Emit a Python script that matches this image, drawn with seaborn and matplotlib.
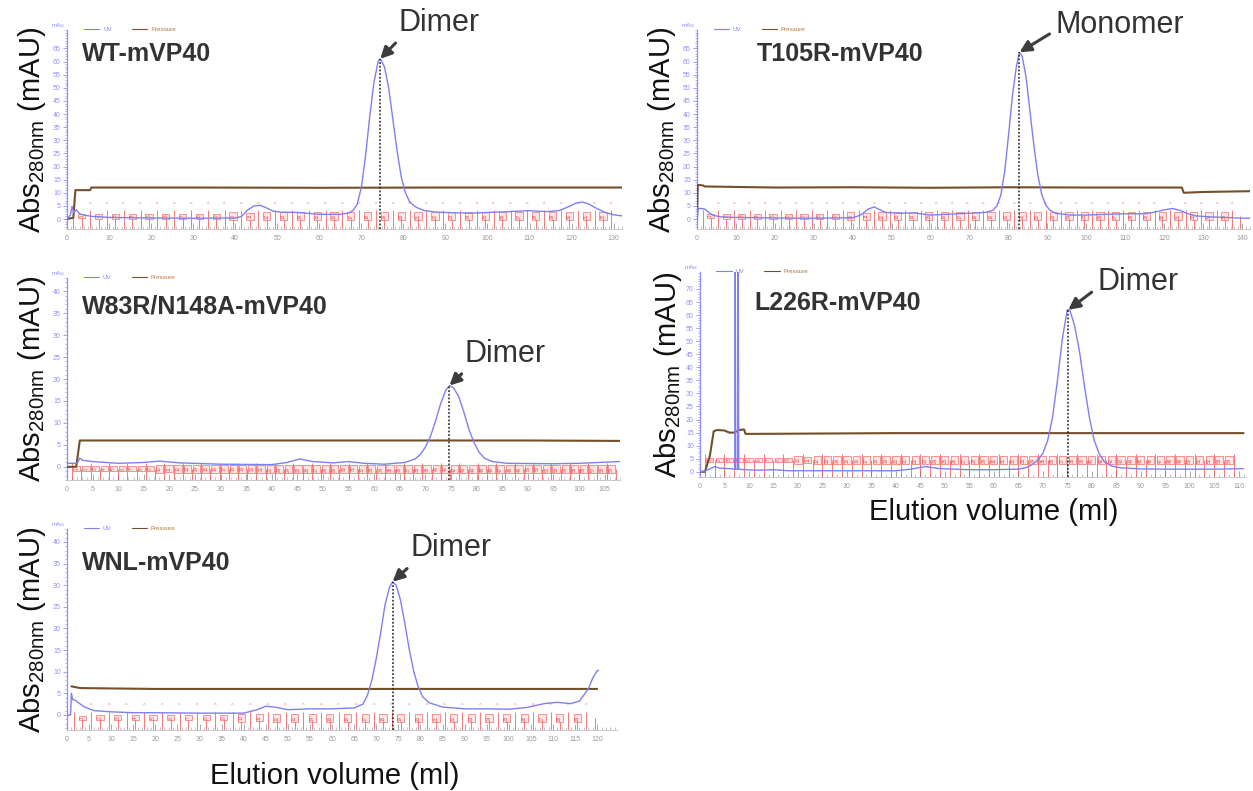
import numpy as np
import pandas as pd
import matplotlib
matplotlib.use("Agg")
import matplotlib.pyplot as plt
import matplotlib.transforms as mtransforms
from matplotlib.ticker import MultipleLocator
from matplotlib import font_manager
import seaborn as sns

# ---------------- data ----------------
wt_name = "WT-mVP40"
wt_uv = [(0, 0), (0.8, 1.5), (1.2, 4.8), (1.6, 2.5), (2.2, 3.5), (3, 2), (4, 1.5), (6, 1), (10, 0.6),
         (20, 0.4), (30, 0.3), (40, 0.4), (41.5, 1), (43, 3.5), (44.5, 5), (46, 5.2), (47.5, 4.2),
         (49, 3), (51, 2.6), (55, 2.5), (60, 1.8), (65, 1.8), (67, 2.3), (68, 3.2), (69, 5.5),
         (70, 12), (71, 24), (72, 39), (73, 52), (74, 60), (74.5, 61), (75.5, 58), (76.5, 50),
         (77.5, 38), (78.5, 26), (79.5, 16), (80.5, 10), (81.5, 6.5), (83, 4.5), (85, 3.2),
         (88, 2.6), (92, 2.4), (96, 2.2), (100, 2.5), (105, 2.8), (110, 3.2), (114, 2.8),
         (117, 3.2), (119, 4.5), (121, 6), (122.5, 6.5), (124, 5.8), (126, 4), (128, 2.5),
         (130, 1.6), (132, 1.2)]
wt_pressure = [(0, 0), (1.5, 0.5), (2, 11), (5.5, 11), (5.8, 12), (30, 12), (60, 11.9), (90, 12), (132, 12)]
wt_peak = (74.5, 61)
wt_note = "Dimer"

t105_name = "T105R-mVP40"
t105_uv = [(0, 0), (0.3, 4), (1, 4), (2, 3.8), (3, 2.5), (4, 1.5), (6, 0.8), (10, 0.6), (20, 0.4),
           (30, 0.3), (40, 0.5), (42, 1.5), (44, 3.8), (45.5, 4.6), (47, 3.5), (48.5, 2.5), (52, 2.2),
           (56, 2.3), (60, 1.5), (64, 1.8), (70, 2.2), (74, 2.5), (76, 3.3), (77, 5), (78, 9),
           (79, 18), (80, 32), (81, 47), (82, 58), (82.8, 63.5), (83.5, 62), (84.5, 54), (85.5, 41),
           (86.5, 28), (87.5, 17), (88.5, 9.5), (89.5, 5.5), (90.5, 3.5), (92, 2.2), (96, 1.5),
           (100, 1.5), (105, 1.8), (110, 2), (115, 2), (118, 2.8), (120, 3.5), (122, 4), (124, 3.3),
           (126, 2), (128, 1.2), (132, 0.8), (136, 0.6), (140, 0.3), (142, 0.3)]
t105_pressure = [(0, 0), (0.2, 13), (1.5, 12.8), (2, 12.4), (20, 12), (40, 12.1), (60, 11.9),
                 (80, 12.1), (100, 12), (124.5, 12), (125, 10), (130, 10.3), (142, 10.6)]
t105_peak = (82.8, 63.5)
t105_note = "Monomer"

w83_name = "W83R/N148A-mVP40"
w83_uv = [(0, 0.8), (2, 0.8), (2.5, 2), (3, 1.5), (5, 1.2), (10, 0.8), (15, 1), (18, 1.3), (22, 0.9),
          (30, 0.6), (40, 0.5), (43, 1), (45.5, 1.8), (48, 1.2), (52, 0.9), (55, 1.2), (58, 0.8),
          (62, 0.6), (66, 1), (68, 1.8), (69, 2.8), (70, 4.5), (71, 7), (72, 10.5), (73, 14.5),
          (74, 17.5), (74.7, 18.5), (75.5, 18), (76.5, 16), (77.5, 12.5), (78.5, 8.5), (79.5, 5.5),
          (80.5, 3.3), (81.5, 2), (83, 1.2), (86, 0.8), (95, 0.7), (100, 0.8), (104, 1), (108, 1.2)]
w83_pressure = [(0, 0), (1.8, 0), (2.5, 6), (30, 6), (60, 6), (90, 6), (108, 5.9)]
w83_peak = (74.7, 18.5)
w83_note = "Dimer"

l226_name = "L226R-mVP40"
l226_uv = [(0, 0), (1, 0.3), (2.5, 1.5), (3, 2), (4, 1.4), (6, 1.2), (7.1, 1), (7.2, 80), (7.3, 1),
           (7.7, 1), (7.8, 80), (7.9, 1), (9, 0.8), (12, 0.6), (15, 0.8), (18, 0.4), (30, 0.4),
           (40, 0.4), (43, 1), (46, 2), (49, 1.2), (55, 0.8), (60, 0.8), (65, 1), (67, 1.8), (68, 3),
           (69, 4.5), (70, 7), (71, 12), (72, 21), (73, 35), (74, 51), (75, 62), (75.5, 62),
           (76.5, 56), (77.5, 46), (78.5, 33), (79.5, 21), (80.5, 12), (81.5, 7), (82.5, 4),
           (84, 2.2), (86, 1.5), (90, 1.1), (95, 1), (100, 1), (105, 1), (111, 1.2)]
l226_pressure = [(0, 0), (1, 0), (2, 6), (2.8, 15.5), (3.5, 16), (5, 15.8), (6, 15), (7, 15),
                 (7.5, 15.5), (8, 16), (9, 16.2), (9.3, 14.5), (20, 14.6), (40, 14.8), (60, 14.8),
                 (80, 14.8), (100, 14.8), (111, 14.8)]
l226_peak = (75.2, 62)
l226_note = "Dimer"

wnl_name = "WNL-mVP40"
wnl_uv = [(0, 0), (0.8, 0), (1, 5), (1.3, 3.5), (2, 3.3), (3, 2.5), (4, 1.8), (6, 1), (10, 0.7),
          (15, 0.5), (20, 0.5), (30, 0.4), (40, 0.4), (43, 1.2), (45, 2), (47, 1.8), (50, 1.2),
          (55, 1.4), (60, 1.4), (65, 1.6), (67, 2.5), (68, 4.5), (69, 8), (70, 13), (71, 19),
          (72, 25.5), (73, 29.5), (73.7, 30.8), (74.5, 30), (75.5, 26.5), (76.5, 21), (77.5, 15),
          (78.5, 10), (79.5, 6.5), (80.5, 4.2), (82, 2.8), (85, 1.8), (90, 1.4), (95, 1.4),
          (100, 1.3), (104, 1.7), (108, 2.6), (111, 2.9), (114, 2.6), (116, 3.2), (118, 6),
          (119, 8.5), (120, 10.2), (120.3, 10.3)]
wnl_pressure = [(1, 6.6), (3, 6.2), (20, 6), (60, 6), (100, 6), (120, 6)]
wnl_peak = (73.7, 30.8)
wnl_note = "Dimer"

# fraction collector marks: (first boundary, width of a fraction, last boundary)
wt_fractions = (1.5, 2.0, 131)
t105_fractions = (1.5, 2.0, 141)
w83_fractions = (1.0, 1.8, 108)
l226_fractions = (1.0, 2.0, 111)
wnl_fractions = (1.5, 2.0, 121)

y_label = "Abs$_{280nm}$ (mAU)"
x_label = "Elution volume (ml)"

# ---------------- style ----------------
sns.set_theme(style="white")
names = {f.name for f in font_manager.fontManager.ttflist}
narrow = "Liberation Sans Narrow" if "Liberation Sans Narrow" in names else "Liberation Sans"
plt.rcParams["font.family"] = ["Liberation Sans", "DejaVu Sans"]
plt.rcParams["mathtext.default"] = "regular"

UV_C = "#7f7ff2"
PR_C = "#74502a"
FR_C = "#f04848"
AX_C = "#8f8fff"
TXT_C = "#333333"
ARR_C = "#3d3d3d"

W, H = 1253, 791
fig = plt.figure(figsize=(W / 100, H / 100), dpi=100)


def add_box(l, t, r, b):
    return fig.add_axes([l / W, 1 - b / H, (r - l) / W, (b - t) / H])


panels = [
    dict(name=wt_name, uv=wt_uv, pr=wt_pressure, peak=wt_peak, note=wt_note, frac=wt_fractions,
         box=(67, 30, 622, 229), xlim=(0, 132), ylim=(-3.8, 72), ytop=65, xstep=10,
         lab=(0.027, 0.88), off=(42, 26), rel=(0.05, 0.05), flab=2, fy=0.065, ylx=-0.034, xlab=False),
    dict(name=t105_name, uv=t105_uv, pr=t105_pressure, peak=t105_peak, note=t105_note, frac=t105_fractions,
         box=(697, 30, 1250, 229), xlim=(0, 142), ylim=(-3.8, 72), ytop=65, xstep=10,
         lab=(0.108, 0.88), off=(72, 20), rel=(0.0, 0.3), flab=2, fy=0.065, ylx=-0.034, xlab=False),
    dict(name=w83_name, uv=w83_uv, pr=w83_pressure, peak=w83_peak, note=w83_note, frac=w83_fractions,
         box=(67, 278, 620, 480), xlim=(0, 108), ylim=(-3.0, 43), ytop=40, xstep=5,
         lab=(0.027, 0.86), off=(40, 23), rel=(0.05, 0.05), flab=1, fy=0.055, ylx=-0.034, xlab=False),
    dict(name=l226_name, uv=l226_uv, pr=l226_pressure, peak=l226_peak, note=l226_note, frac=l226_fractions,
         box=(700, 272, 1246, 477), xlim=(0, 111.5), ylim=(-2.0, 76.5), ytop=70, xstep=5,
         lab=(0.10, 0.85), off=(50, 20), rel=(0.0, 0.3), flab=1, fy=0.083, ylx=-0.030, xlab=True,
         xlab_pos=(0.537, -0.10)),
    dict(name=wnl_name, uv=wnl_uv, pr=wnl_pressure, peak=wnl_peak, note=wnl_note, frac=wnl_fractions,
         box=(67, 529, 617, 730), xlim=(0, 124.5), ylim=(-3.5, 43), ytop=40, xstep=5,
         lab=(0.027, 0.83), off=(42, 24), rel=(0.05, 0.05), flab=2, fy=0.06, ylx=-0.034, xlab=True,
         xlab_pos=(0.487, -0.16)),
]

for p in panels:
    ax = add_box(*p["box"])
    uv = pd.DataFrame(p["uv"], columns=["ml", "mAU"])
    pr = pd.DataFrame(p["pr"], columns=["ml", "mAU"])
    ax.set_xlim(*p["xlim"])
    ax.set_ylim(*p["ylim"])

    # fraction collector marks
    trans = mtransforms.blended_transform_factory(ax.transData, ax.transAxes)
    f0, fw, f1 = p["frac"]
    bounds = np.arange(f0, f1, fw)
    heights = np.where(np.arange(len(bounds)) % 2 == 0, p["fy"] + 0.03, p["fy"])
    ax.vlines(bounds, 0, heights, transform=trans, color=FR_C, lw=0.6, alpha=0.85, zorder=2)
    k = 1
    for i in range(0, len(bounds) - p["flab"], p["flab"]):
        mid = (bounds[i] + bounds[i + p["flab"]]) / 2
        ax.text(mid, p["fy"], str(k), transform=trans, rotation=90, fontsize=3.3, color=FR_C,
                ha="center", va="center", zorder=3,
                bbox=dict(boxstyle="square,pad=0.25", fc="#ffe6e6", ec=FR_C, lw=0.4))
        if p["flab"] == 2:
            ax.text(bounds[i + 1] + fw, p["fy"] + 0.06, "^", transform=trans, fontsize=4, color="#f07070",
                    ha="center", va="center", zorder=3)
        k += 1

    sns.lineplot(data=pr, x="ml", y="mAU", ax=ax, color=PR_C, lw=1.5, sort=False,
                 estimator=None, label="Pressure", zorder=4)
    sns.lineplot(data=uv, x="ml", y="mAU", ax=ax, color=UV_C, lw=1.0, sort=False,
                 estimator=None, label="UV", zorder=5)

    # peak marker line
    px, py = p["peak"]
    ax.vlines(px, p["ylim"][0], py, colors="#222222", linestyles=(0, (1.2, 1.2)), lw=1.1, zorder=6)

    # axes styling
    for s in ["top", "right"]:
        ax.spines[s].set_visible(False)
    ax.spines["left"].set_color(AX_C)
    ax.spines["left"].set_linewidth(0.9)
    ax.spines["bottom"].set_color("#c8c8c8")
    ax.spines["bottom"].set_linewidth(0.7)
    ax.set_yticks(np.arange(0, p["ytop"] + 1, 5))
    ax.yaxis.set_minor_locator(MultipleLocator(1))
    ax.xaxis.set_major_locator(MultipleLocator(p["xstep"]))
    ax.xaxis.set_minor_locator(MultipleLocator(1))
    ax.tick_params(axis="y", which="major", direction="out", length=3, width=0.6, colors=AX_C,
                   labelsize=5, pad=1.5, left=True)
    ax.tick_params(axis="y", which="minor", direction="out", length=1.5, width=0.5, colors=AX_C, left=True)
    ax.tick_params(axis="x", which="major", direction="in", length=4, width=0.6, colors="#9a9a9a",
                   labelsize=5, pad=4, bottom=True)
    ax.tick_params(axis="x", which="minor", direction="in", length=2, width=0.5, colors="#b0b0b0", bottom=True)

    # legend strip at the top
    h_uv = [l for l in ax.get_lines() if l.get_label() == "UV"][0]
    h_pr = [l for l in ax.get_lines() if l.get_label() == "Pressure"][0]
    leg = ax.legend([h_uv, h_pr], ["UV", "Pressure"], loc="lower left", bbox_to_anchor=(0.03, 0.99),
                    ncol=2, fontsize=4.5, frameon=False, handlelength=2.5, columnspacing=3.2,
                    borderaxespad=0, borderpad=0, handletextpad=0.6)
    for t, c in zip(leg.get_texts(), [UV_C, "#b07a40"]):
        t.set_color(c)
    for ln in leg.get_lines():
        ln.set_linewidth(0.8)
    ax.text(-0.005, 1.01, "mAu", transform=ax.transAxes, ha="right", va="bottom", fontsize=4.5, color=AX_C)

    # sample name
    ax.text(p["lab"][0], p["lab"][1], p["name"], transform=ax.transAxes, fontsize=18,
            fontweight="bold", family=[narrow, "Liberation Sans"], color=TXT_C, ha="left", va="center")

    # oligomer annotation
    ax.annotate(p["note"], xy=(px, py), xytext=p["off"], textcoords="offset points",
                fontsize=22, color=TXT_C, ha="center", va="center", annotation_clip=False,
                arrowprops=dict(arrowstyle="-|>", color=ARR_C, lw=2.2, mutation_scale=17,
                                relpos=p["rel"], shrinkA=2, shrinkB=0))

    # axis titles
    ax.set_ylabel(y_label, fontsize=21, color="#111111")
    ax.yaxis.set_label_coords(p["ylx"], 0.5)
    if p["xlab"]:
        ax.set_xlabel(x_label, fontsize=21, color="#111111")
        ax.xaxis.set_label_coords(*p["xlab_pos"])
    else:
        ax.set_xlabel("")

fig.savefig("out.png", dpi=100, facecolor="white")
